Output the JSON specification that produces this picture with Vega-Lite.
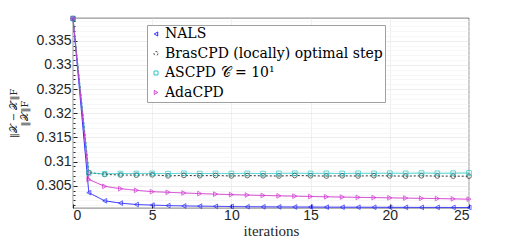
{
  "$schema": "https://vega.github.io/schema/vega-lite/v6.json",
  "width": 396,
  "height": 190,
  "autosize": "none",
  "padding": {"left": 73, "top": 18, "right": 49, "bottom": 40},
  "background": "white",
  "config": {
    "view": {"stroke": "#262626", "strokeWidth": 0.6},
    "font": "Liberation Sans",
    "axis": {"labelFont": "Liberation Sans"}
  },
  "data": {"values": [
    {"it":0,"s":"NALS","v":0.3396},{"it":1,"s":"NALS","v":0.30357},{"it":2,"s":"NALS","v":0.30188},{"it":3,"s":"NALS","v":0.30141},{"it":4,"s":"NALS","v":0.30112},{"it":5,"s":"NALS","v":0.30100},{"it":6,"s":"NALS","v":0.30090},{"it":7,"s":"NALS","v":0.30083},{"it":8,"s":"NALS","v":0.30078},{"it":9,"s":"NALS","v":0.30074},{"it":10,"s":"NALS","v":0.30070},{"it":11,"s":"NALS","v":0.30067},{"it":12,"s":"NALS","v":0.30065},{"it":13,"s":"NALS","v":0.30063},{"it":14,"s":"NALS","v":0.30061},{"it":15,"s":"NALS","v":0.30060},{"it":16,"s":"NALS","v":0.30058},{"it":17,"s":"NALS","v":0.30057},{"it":18,"s":"NALS","v":0.30056},{"it":19,"s":"NALS","v":0.30055},{"it":20,"s":"NALS","v":0.30054},{"it":21,"s":"NALS","v":0.30053},{"it":22,"s":"NALS","v":0.30052},{"it":23,"s":"NALS","v":0.30052},{"it":24,"s":"NALS","v":0.30051},{"it":25,"s":"NALS","v":0.30050},
    {"it":0,"s":"BrasCPD (locally) optimal step","v":0.3396},{"it":1,"s":"BrasCPD (locally) optimal step","v":0.30773},{"it":2,"s":"BrasCPD (locally) optimal step","v":0.30735},{"it":3,"s":"BrasCPD (locally) optimal step","v":0.30722},{"it":4,"s":"BrasCPD (locally) optimal step","v":0.30720},{"it":5,"s":"BrasCPD (locally) optimal step","v":0.30726},{"it":6,"s":"BrasCPD (locally) optimal step","v":0.30704},{"it":7,"s":"BrasCPD (locally) optimal step","v":0.30714},{"it":8,"s":"BrasCPD (locally) optimal step","v":0.30708},{"it":9,"s":"BrasCPD (locally) optimal step","v":0.30712},{"it":10,"s":"BrasCPD (locally) optimal step","v":0.30703},{"it":11,"s":"BrasCPD (locally) optimal step","v":0.30710},{"it":12,"s":"BrasCPD (locally) optimal step","v":0.30706},{"it":13,"s":"BrasCPD (locally) optimal step","v":0.30702},{"it":14,"s":"BrasCPD (locally) optimal step","v":0.30712},{"it":15,"s":"BrasCPD (locally) optimal step","v":0.30707},{"it":16,"s":"BrasCPD (locally) optimal step","v":0.30701},{"it":17,"s":"BrasCPD (locally) optimal step","v":0.30706},{"it":18,"s":"BrasCPD (locally) optimal step","v":0.30702},{"it":19,"s":"BrasCPD (locally) optimal step","v":0.30708},{"it":20,"s":"BrasCPD (locally) optimal step","v":0.30704},{"it":21,"s":"BrasCPD (locally) optimal step","v":0.30700},{"it":22,"s":"BrasCPD (locally) optimal step","v":0.30706},{"it":23,"s":"BrasCPD (locally) optimal step","v":0.30701},{"it":24,"s":"BrasCPD (locally) optimal step","v":0.30699},{"it":25,"s":"BrasCPD (locally) optimal step","v":0.30698},
    {"it":0,"s":"ASCPD 𝒞 = 10¹","v":0.3396},{"it":1,"s":"ASCPD 𝒞 = 10¹","v":0.30765},{"it":2,"s":"ASCPD 𝒞 = 10¹","v":0.30748},{"it":3,"s":"ASCPD 𝒞 = 10¹","v":0.30752},{"it":4,"s":"ASCPD 𝒞 = 10¹","v":0.30754},{"it":5,"s":"ASCPD 𝒞 = 10¹","v":0.30756},{"it":6,"s":"ASCPD 𝒞 = 10¹","v":0.30750},{"it":7,"s":"ASCPD 𝒞 = 10¹","v":0.30758},{"it":8,"s":"ASCPD 𝒞 = 10¹","v":0.30752},{"it":9,"s":"ASCPD 𝒞 = 10¹","v":0.30755},{"it":10,"s":"ASCPD 𝒞 = 10¹","v":0.30753},{"it":11,"s":"ASCPD 𝒞 = 10¹","v":0.30757},{"it":12,"s":"ASCPD 𝒞 = 10¹","v":0.30751},{"it":13,"s":"ASCPD 𝒞 = 10¹","v":0.30756},{"it":14,"s":"ASCPD 𝒞 = 10¹","v":0.30759},{"it":15,"s":"ASCPD 𝒞 = 10¹","v":0.30755},{"it":16,"s":"ASCPD 𝒞 = 10¹","v":0.30757},{"it":17,"s":"ASCPD 𝒞 = 10¹","v":0.30754},{"it":18,"s":"ASCPD 𝒞 = 10¹","v":0.30758},{"it":19,"s":"ASCPD 𝒞 = 10¹","v":0.30756},{"it":20,"s":"ASCPD 𝒞 = 10¹","v":0.30760},{"it":21,"s":"ASCPD 𝒞 = 10¹","v":0.30757},{"it":22,"s":"ASCPD 𝒞 = 10¹","v":0.30762},{"it":23,"s":"ASCPD 𝒞 = 10¹","v":0.30758},{"it":24,"s":"ASCPD 𝒞 = 10¹","v":0.30760},{"it":25,"s":"ASCPD 𝒞 = 10¹","v":0.30765},
    {"it":0,"s":"AdaCPD","v":0.3396},{"it":1,"s":"AdaCPD","v":0.30631},{"it":2,"s":"AdaCPD","v":0.30488},{"it":3,"s":"AdaCPD","v":0.30439},{"it":4,"s":"AdaCPD","v":0.30406},{"it":5,"s":"AdaCPD","v":0.30378},{"it":6,"s":"AdaCPD","v":0.30365},{"it":7,"s":"AdaCPD","v":0.30351},{"it":8,"s":"AdaCPD","v":0.30338},{"it":9,"s":"AdaCPD","v":0.30327},{"it":10,"s":"AdaCPD","v":0.30317},{"it":11,"s":"AdaCPD","v":0.30308},{"it":12,"s":"AdaCPD","v":0.30300},{"it":13,"s":"AdaCPD","v":0.30292},{"it":14,"s":"AdaCPD","v":0.30285},{"it":15,"s":"AdaCPD","v":0.30278},{"it":16,"s":"AdaCPD","v":0.30272},{"it":17,"s":"AdaCPD","v":0.30266},{"it":18,"s":"AdaCPD","v":0.30260},{"it":19,"s":"AdaCPD","v":0.30255},{"it":20,"s":"AdaCPD","v":0.30250},{"it":21,"s":"AdaCPD","v":0.30245},{"it":22,"s":"AdaCPD","v":0.30240},{"it":23,"s":"AdaCPD","v":0.30235},{"it":24,"s":"AdaCPD","v":0.30229},{"it":25,"s":"AdaCPD","v":0.30222}
  ]},
  "encoding": {
    "x": {"field": "it", "type": "quantitative",
      "scale": {"domain": [0, 25], "nice": false},
      "axis": {"values": [0,5,10,15,20,25], "title": "iterations", "titleFont": "Liberation Serif", "titleFontWeight": "normal", "titleFontSize": 15, "titleColor": "#262626", "titlePadding": 1,
        "labelFontSize": 14, "labelColor": "#262626", "labelPadding": 4, "tickSize": -4, "tickColor": "#262626", "domain": false,
        "grid": true, "gridColor": "#e6e6e6", "gridWidth": 0.6}},
    "y": {"field": "v", "type": "quantitative",
      "scale": {"domain": [0.3004, 0.3397], "nice": false, "zero": false},
      "axis": {"values": [0.301,0.302,0.303,0.304,0.305,0.306,0.307,0.308,0.309,0.31,0.311,0.312,0.313,0.314,0.315,0.316,0.317,0.318,0.319,0.32,0.321,0.322,0.323,0.324,0.325,0.326,0.327,0.328,0.329,0.33,0.331,0.332,0.333,0.334,0.335,0.336,0.337,0.338,0.339],
        "labelExpr": "round(datum.value*1000) % 5 == 0 ? format(datum.value, '~g') : ''",
        "title": ["‖𝒳 − 𝒳̂‖F", "‖𝒳‖F"], "titleFont": "DejaVu Serif", "titleFontWeight": "normal", "titleFontSize": 10, "titleLineHeight": 11, "titleColor": "#262626", "titlePadding": 6,
        "labelFontSize": 14, "labelColor": "#262626", "labelPadding": 6, "domain": false,
        "tickColor": "#262626",
        "tickSize": {"condition": {"test": "round(datum.value*1000) % 5 == 0", "value": -4}, "value": -2},
        "grid": true,
        "gridColor": {"condition": {"test": "round(datum.value*1000) % 5 == 0", "value": "#e0e0e0"}, "value": "#f2f2f2"},
        "gridWidth": 0.6}},
    "color": {"field": "s", "type": "nominal",
      "scale": {"domain": ["NALS", "BrasCPD (locally) optimal step", "ASCPD 𝒞 = 10¹", "AdaCPD"], "range": ["#2525ff", "#333333", "#2ec8c8", "#d030d0"]},
      "legend": {"title": null, "orient": "none", "legendX": 74, "legendY": 7, "labelFont": "DejaVu Serif", "labelFontSize": 14, "labelColor": "black", "strokeColor": "#a0a0a0", "fillColor": "white", "padding": 2, "rowPadding": 5.5, "symbolSize": 16, "symbolStrokeWidth": 1, "symbolOffset": 0, "labelOffset": 2, "labelLimit": 400,
        "encode": {"symbols": {
          "enter": {"shape": {"signal": "datum.value == 'NALS' ? 'M-2.5,0L2.5,0M-1,0L1,-1L1,1Z' : datum.value == 'AdaCPD' ? 'M-2.5,0L2.5,0M1,0L-1,-1L-1,1Z' : datum.value == 'BrasCPD (locally) optimal step' ? 'M-2.5,0L-1,0M1,0L2.5,0M-1,0A1,1,0,1,0,1,0A1,1,0,1,0,-1,0' : 'M-2.5,0L2.5,0M-0.9,-0.9L0.9,-0.9L0.9,0.9L-0.9,0.9Z'"}},
          "update": {"fill": {"value": "transparent"}, "shape": {"signal": "datum.value == 'NALS' ? 'M-2.5,0L2.5,0M-1,0L1,-1L1,1Z' : datum.value == 'AdaCPD' ? 'M-2.5,0L2.5,0M1,0L-1,-1L-1,1Z' : datum.value == 'BrasCPD (locally) optimal step' ? 'M-2.5,0L-1,0M1,0L2.5,0M-1,0A1,1,0,1,0,1,0A1,1,0,1,0,-1,0' : 'M-2.5,0L2.5,0M-0.9,-0.9L0.9,-0.9L0.9,0.9L-0.9,0.9Z'"}}}}}}
  },
  "layer": [
    {"mark": {"type": "line", "strokeWidth": 1},
     "encoding": {"strokeDash": {"field": "s", "type": "nominal",
       "scale": {"domain": ["NALS", "BrasCPD (locally) optimal step", "ASCPD 𝒞 = 10¹", "AdaCPD"], "range": [[1,0],[2,2],[1,0],[1,0]]}, "legend": null}}},
    {"mark": {"type": "point", "filled": false, "size": 22, "strokeWidth": 1},
     "encoding": {"shape": {"field": "s", "type": "nominal",
       "scale": {"domain": ["NALS", "BrasCPD (locally) optimal step", "ASCPD 𝒞 = 10¹", "AdaCPD"], "range": ["triangle-left", "circle", "square", "triangle-right"]}, "legend": null}}}
  ]
}
